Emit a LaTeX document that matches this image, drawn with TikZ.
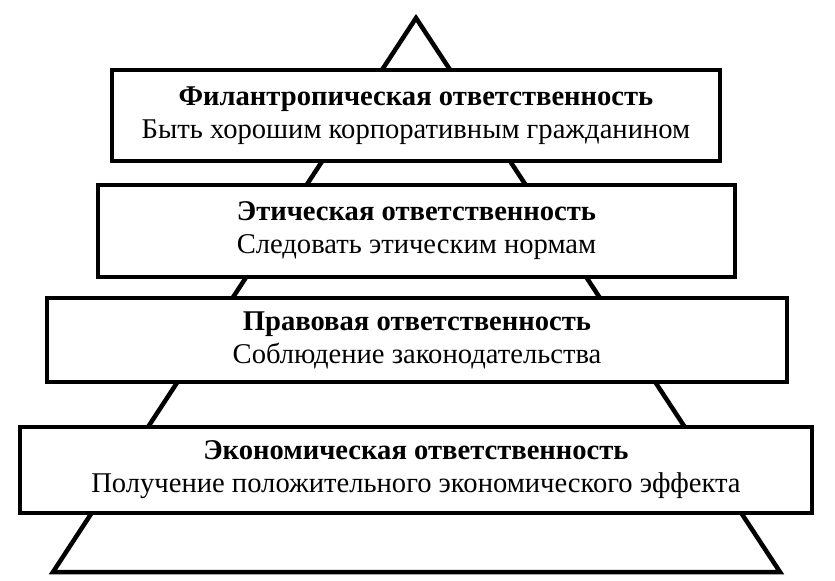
\documentclass[tikz,border=0pt]{standalone}
\usepackage{fontspec}
\setmainfont{Liberation Serif}
\begin{document}
\begin{tikzpicture}[x=1bp,y=-1bp,
  edge/.style={line width=4.5bp, line join=miter},
  box/.style={draw, line width=4.5bp, fill=white, align=center, inner sep=0pt,
    font=\fontsize{28.6bp}{33bp}\selectfont}]
\useasboundingbox (0,0) rectangle (835,581);
\coordinate (apex) at (416,18);
\coordinate (bl) at (53,572);
\coordinate (br) at (780,572);
\draw[edge] (apex) -- (bl) -- (br) -- cycle;
\node[box, minimum width=608bp, minimum height=91bp] (b1) at (416,115.5)
  {\textbf{Филантропическая ответственность}\\Быть хорошим корпоративным гражданином};
\node[box, minimum width=637bp, minimum height=92bp] (b2) at (416.5,231)
  {\textbf{Этическая ответственность}\\Следовать этическим нормам};
\node[box, minimum width=740bp, minimum height=84bp] (b3) at (417,340)
  {\textbf{Правовая ответственность}\\Соблюдение законодательства};
\node[box, minimum width=792bp, minimum height=86bp] (b4) at (416,470)
  {\textbf{Экономическая ответственность}\\Получение положительного экономического эффекта};
\end{tikzpicture}
\end{document}
